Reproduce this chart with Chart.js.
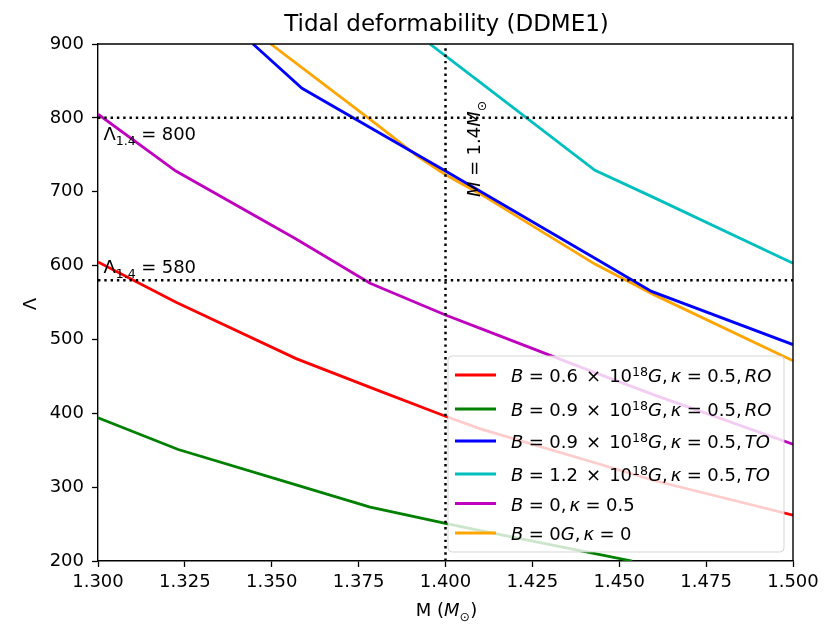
<!DOCTYPE html>
<html><head><meta charset="utf-8">
<script src="https://cdn.jsdelivr.net/npm/chart.js@4/dist/chart.umd.min.js"></script>
<style>html,body{margin:0;padding:0;background:#fff}#wrap{width:831px;height:624px}</style>
</head><body><div id="wrap"><canvas id="c" width="831" height="624"></canvas></div>
<script>
// ---- data ----
const massRed = [1.300, 1.3226, 1.357, 1.380, 1.400, 1.410, 1.443, 1.460, 1.500];
const lambdaRed = [605, 550, 474, 432, 396, 379, 333, 309, 262];
const massGreen = [1.300, 1.3231, 1.357, 1.3783, 1.400, 1.410, 1.443, 1.4537];
const lambdaGreen = [394, 351, 303, 273, 251, 241, 210, 200];
const massBlue = [1.3446, 1.3587, 1.400, 1.443, 1.4593, 1.500];
const lambdaBlue = [900, 840, 728, 610, 565, 493];
const massCyan = [1.3955, 1.410, 1.443, 1.460, 1.500];
const lambdaCyan = [900, 848, 729, 692, 603];
const massMagenta = [1.300, 1.3224, 1.357, 1.3783, 1.400, 1.410, 1.443, 1.460, 1.500];
const lambdaMagenta = [805, 728, 636, 576, 533, 515, 455, 425, 358];
const massOrange = [1.3497, 1.380, 1.392, 1.400, 1.410, 1.443, 1.4598, 1.500];
const lambdaOrange = [900, 792, 748, 723, 697, 602, 561, 471];

const seriesLabels = [
  "$B = 0.6 × 10^{18}G, κ = 0.5, RO$",
  "$B = 0.9 × 10^{18}G, κ = 0.5, RO$",
  "$B = 0.9 × 10^{18}G, κ = 0.5, TO$",
  "$B = 1.2 × 10^{18}G, κ = 0.5, TO$",
  "$B = 0, κ = 0.5$",
  "$B = 0G, κ = 0$"
];
const seriesColors = ['#ff0000', '#008000', '#0000ff', '#00bfbf', '#bf00bf', '#ffa500'];
const seriesMass = [massRed, massGreen, massBlue, massCyan, massMagenta, massOrange];
const seriesLambda = [lambdaRed, lambdaGreen, lambdaBlue, lambdaCyan, lambdaMagenta, lambdaOrange];

const refLambda = [800, 580];
const refMass = 1.4;
const refLabels = ["$Λ_{1.4} = 800$", "$Λ_{1.4} = 580$"];
const refLabelPos = [[1.301, 770], [1.301, 590]];
const massLabel = "$M = 1.4M_{⊙}$";
const massLabelPos = [1.41, 693];

const xTicks = [1.300, 1.325, 1.350, 1.375, 1.400, 1.425, 1.450, 1.475, 1.500];
const yTicks = [200, 300, 400, 500, 600, 700, 800, 900];
const titleText = "Tidal deformability (DDME1)";
const xTitle = "M ($M_{⊙}$)";
const yTitle = "Λ";

// ---- rich (math-like) text ----
const FONT = '"DejaVu Sans"';
const FS = 18;
function isLetter(c){ return /[A-Za-zα-ω]/.test(c); }
function layoutRich(ctx, str, size){
  const runs = []; let math = false; let i = 0; let x = 0;
  function push(ch, sz, dy, italic){
    const font = (italic ? 'italic ' : '') + sz + 'px ' + FONT;
    ctx.font = font;
    const w = ctx.measureText(ch).width;
    runs.push({ch, font, x, dy}); x += w;
  }
  while (i < str.length){
    const ch = str[i];
    if (ch === '$'){ math = !math; i++; continue; }
    if (math && (ch === '^' || ch === '_') && str[i+1] === '{'){
      const j = str.indexOf('}', i);
      const inner = str.slice(i+2, j);
      for (const c of inner) push(c, size*0.7, ch === '^' ? -size*0.33 : size*0.3, isLetter(c));
      i = j+1; continue;
    }
    if (math && ch === ' '){
      const p = str[i-1], n = str[i+1];
      if (p === '×' || n === '×') x += 0.45*size;
      else if (p === '=' || n === '=') x += 0.3*size;
      else x += 0.17*size;
      i++; continue;
    }
    push(ch, size, 0, math && isLetter(ch));
    i++;
  }
  return {runs, width: x};
}
function drawRich(ctx, str, x, y, size, align){
  const L = layoutRich(ctx, str, size);
  let x0 = x;
  if (align === 'center') x0 = x - L.width/2;
  ctx.textBaseline = 'alphabetic'; ctx.textAlign = 'left';
  for (const r of L.runs){ ctx.font = r.font; ctx.fillText(r.ch, x0 + r.x, y + r.dy); }
}

// ---- datasets ----
const datasets = seriesLabels.map((lab, k) => ({
  label: lab,
  data: seriesMass[k].map((m, i) => ({x: m, y: seriesLambda[k][i]})),
  borderColor: seriesColors[k], backgroundColor: seriesColors[k],
  borderWidth: 2.8, pointRadius: 0, tension: 0, fill: false
}));
const dotted = {borderColor: '#000', borderWidth: 2.5, borderDash: [2.4, 3.9], pointRadius: 0, fill: false, order: -1, borderCapStyle: 'butt'};
refLambda.forEach(v => datasets.push(Object.assign({label: 'ref' + v, data: [{x: xTicks[0], y: v}, {x: xTicks[xTicks.length-1], y: v}]}, dotted)));
datasets.push(Object.assign({label: 'refM', data: [{x: refMass, y: yTicks[0]}, {x: refMass, y: yTicks[yTicks.length-1]}]}, dotted));

const decor = {
  id: 'decor',
  afterDraw(chart){
    const ctx = chart.ctx, a = chart.chartArea;
    const xs = chart.scales.x, ys = chart.scales.y;
    ctx.save();
    // top & right spines
    ctx.strokeStyle = '#000'; ctx.lineWidth = 1.4;
    ctx.beginPath();
    ctx.moveTo(a.left, a.top); ctx.lineTo(a.right, a.top); ctx.lineTo(a.right, a.bottom);
    ctx.stroke();
    ctx.fillStyle = '#000';
    // title
    ctx.font = '23px ' + FONT; ctx.textAlign = 'center'; ctx.textBaseline = 'alphabetic';
    ctx.fillText(titleText, (a.left + a.right)/2 + 1, 31);
    // axis titles
    drawRich(ctx, xTitle, (a.left + a.right)/2 + 1, 616, FS, 'center');
    ctx.save(); ctx.translate(36, 304); ctx.rotate(-Math.PI/2);
    drawRich(ctx, yTitle, 0, 0, FS, 'center'); ctx.restore();
    // annotations
    refLabels.forEach((t, k) => drawRich(ctx, t, xs.getPixelForValue(refLabelPos[k][0]) + 2, ys.getPixelForValue(refLabelPos[k][1]), FS, 'left'));
    ctx.save(); ctx.translate(xs.getPixelForValue(massLabelPos[0]), ys.getPixelForValue(massLabelPos[1])); ctx.rotate(-Math.PI/2);
    drawRich(ctx, massLabel, 0, 0, FS, 'left'); ctx.restore();
    // legend
    const lw = 336, lh = 196;
    const lx = a.right - 9 - lw, ly = a.bottom - 9 - lh;
    ctx.beginPath(); ctx.roundRect(lx, ly, lw, lh, 4);
    ctx.fillStyle = 'rgba(255,255,255,0.8)'; ctx.fill();
    ctx.strokeStyle = 'rgba(204,204,204,0.8)'; ctx.lineWidth = 1; ctx.stroke();
    const rowY = [19, 53, 85, 118, 147.5, 177];
    seriesLabels.forEach((lab, k) => {
      const y = ly + rowY[k];
      ctx.strokeStyle = seriesColors[k]; ctx.lineWidth = 2.8; ctx.setLineDash([]);
      ctx.beginPath(); ctx.moveTo(lx + 7, y); ctx.lineTo(lx + 48, y); ctx.stroke();
      ctx.fillStyle = '#000';
      drawRich(ctx, lab, lx + 63, y + 7, FS, 'left');
    });
    ctx.restore();
  }
};

Chart.defaults.font.family = 'DejaVu Sans';
Chart.defaults.font.size = FS;
Chart.defaults.color = '#000';

new Chart(document.getElementById('c'), {
  type: 'line',
  data: {datasets},
  options: {
    responsive: false, animation: false, devicePixelRatio: 1,
    layout: {padding: {top: 44, right: 38, left: 0, bottom: 0}},
    plugins: {legend: {display: false}, tooltip: {enabled: false}, title: {display: false}},
    scales: {
      x: {
        type: 'linear', min: xTicks[0], max: xTicks[xTicks.length-1],
        afterBuildTicks: s => { s.ticks = xTicks.map(v => ({value: v})); },
        afterFit: s => { s.height = 63; },
        ticks: {callback: v => Number(v).toFixed(3), autoSkip: false, maxRotation: 0, padding: 5, color: '#000'},
        grid: {display: true, drawOnChartArea: false, drawTicks: true, tickLength: 6, tickWidth: 1.3, tickColor: '#000'},
        border: {display: true, color: '#000', width: 1.4}
      },
      y: {
        type: 'linear', min: yTicks[0], max: yTicks[yTicks.length-1],
        afterBuildTicks: s => { s.ticks = yTicks.map(v => ({value: v})); },
        afterFit: s => { s.width = 98; },
        ticks: {callback: v => String(v), autoSkip: false, padding: 8, color: '#000'},
        grid: {display: true, drawOnChartArea: false, drawTicks: true, tickLength: 6, tickWidth: 1.3, tickColor: '#000'},
        border: {display: true, color: '#000', width: 1.4}
      }
    }
  },
  plugins: [decor]
});
</script></body></html>
